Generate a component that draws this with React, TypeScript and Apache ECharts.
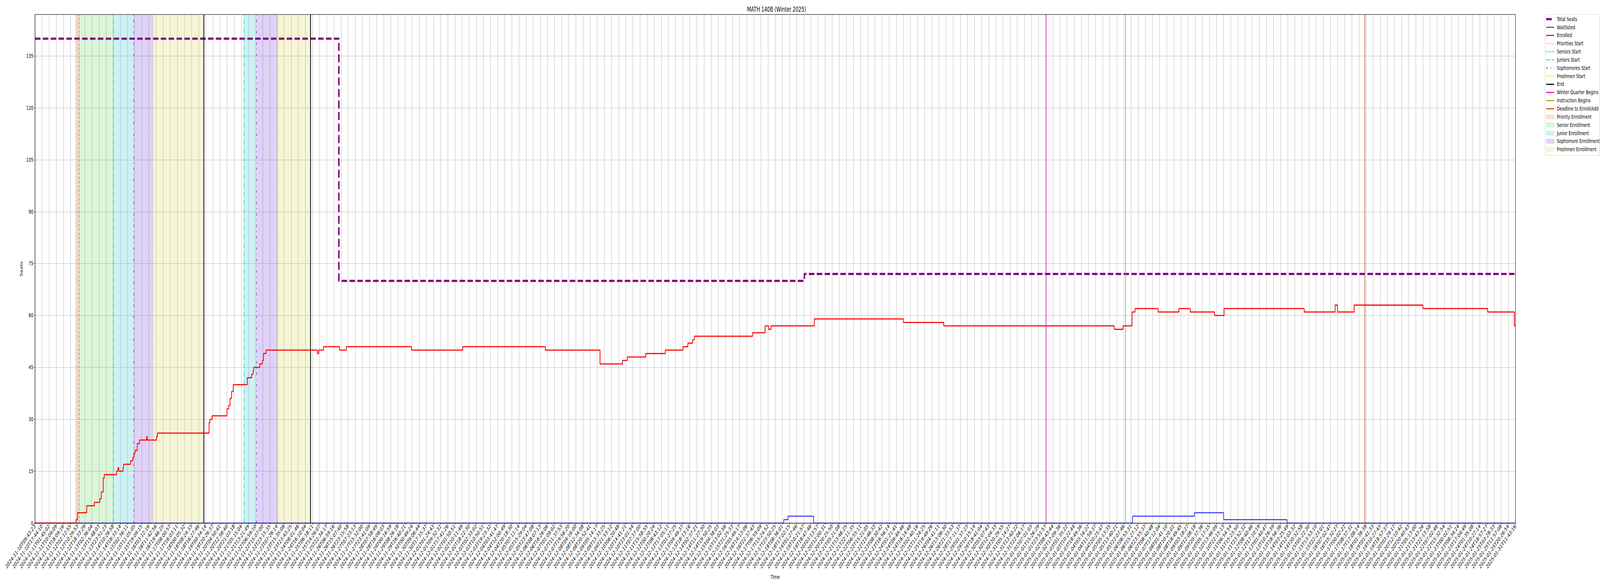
import { useEffect, useRef, useState } from 'react'
import * as echarts from 'echarts'

// tick labels, one per tick position 0..208 on the x axis
const timeLabels = [
  '2024-11-10T09:43:23', '2024-11-10T17:44:10', '2024-11-11T01:45:02', '2024-11-11T10:09:09', '2024-11-11T18:09:16',
  '2024-11-12T02:12:55', '2024-11-12T10:29:53', '2024-11-12T18:33:29', '2024-11-13T02:36:04', '2024-11-13T15:48:03',
  '2024-11-13T23:51:23', '2024-11-14T10:28:58', '2024-11-14T18:33:14', '2024-11-15T02:36:11', '2024-11-15T11:05:05',
  '2024-11-15T19:09:15', '2024-11-16T03:12:16', '2024-11-16T11:42:56', '2024-11-16T19:46:25', '2024-11-17T08:00:57',
  '2024-11-17T16:03:11', '2024-11-18T00:05:32', '2024-11-18T08:24:33', '2024-11-18T16:27:46', '2024-11-19T00:34:14',
  '2024-11-19T20:26:37', '2024-11-20T04:50:41', '2024-11-20T12:56:40', '2024-11-20T21:03:18', '2024-11-21T05:15:04',
  '2024-11-21T13:21:49', '2024-11-22T06:59:10', '2024-11-22T15:07:00', '2024-11-22T23:15:35', '2024-11-23T07:26:14',
  '2024-11-23T15:35:08', '2024-11-23T23:43:25', '2024-11-24T08:01:46', '2024-11-24T16:10:04', '2024-11-25T06:18:11',
  '2024-11-25T14:26:07', '2024-11-25T22:34:17', '2024-11-26T06:59:16', '2024-11-26T15:07:40', '2024-11-26T23:15:58',
  '2024-11-27T07:23:13', '2024-11-27T15:32:00', '2024-11-27T23:41:09', '2024-11-28T07:58:49', '2024-11-28T16:08:03',
  '2024-11-29T00:16:59', '2024-11-29T08:26:18', '2024-11-29T16:40:21', '2024-11-30T00:49:24', '2024-11-30T09:06:44',
  '2024-11-30T17:15:37', '2024-12-01T01:24:43', '2024-12-01T09:32:32', '2024-12-01T17:41:26', '2024-12-02T01:50:51',
  '2024-12-02T10:11:49', '2024-12-02T18:22:30', '2024-12-03T02:33:02', '2024-12-03T10:50:51', '2024-12-03T19:23:32',
  '2024-12-04T03:41:47', '2024-12-04T12:00:49', '2024-12-04T20:18:30', '2024-12-05T07:11:14', '2024-12-05T15:29:04',
  '2024-12-05T23:47:08', '2024-12-06T08:07:13', '2024-12-06T16:26:06', '2024-12-07T01:09:02', '2024-12-07T11:37:53',
  '2024-12-07T19:56:20', '2024-12-08T04:16:00', '2024-12-08T12:34:08', '2024-12-08T20:52:41', '2024-12-09T05:14:17',
  '2024-12-09T13:33:25', '2024-12-09T21:53:12', '2024-12-10T06:20:48', '2024-12-10T14:41:21', '2024-12-10T23:01:54',
  '2024-12-11T07:37:00', '2024-12-11T15:58:55', '2024-12-12T00:20:24', '2024-12-12T08:43:12', '2024-12-12T17:05:11',
  '2024-12-13T01:27:25', '2024-12-13T09:49:37', '2024-12-13T18:13:16', '2024-12-14T02:37:21', '2024-12-14T11:27:30',
  '2024-12-14T19:50:25', '2024-12-15T04:38:03', '2024-12-15T13:02:56', '2024-12-15T21:25:33', '2024-12-16T05:49:17',
  '2024-12-16T14:13:06', '2024-12-16T22:37:43', '2024-12-17T06:59:09', '2024-12-17T15:24:52', '2024-12-17T23:50:25',
  '2024-12-18T08:36:01', '2024-12-18T17:02:15', '2024-12-19T01:27:46', '2024-12-19T10:21:57', '2024-12-19T18:47:46',
  '2024-12-20T03:13:57', '2024-12-20T12:00:31', '2024-12-20T20:25:50', '2024-12-21T05:21:08', '2024-12-21T13:46:25',
  '2024-12-21T22:11:35', '2024-12-22T06:55:11', '2024-12-22T15:21:05', '2024-12-22T23:46:33', '2024-12-23T08:30:42',
  '2024-12-23T16:56:14', '2024-12-24T01:21:41', '2024-12-24T09:49:46', '2024-12-24T18:14:48', '2024-12-25T02:40:16',
  '2024-12-25T11:24:25', '2024-12-25T19:49:26', '2024-12-26T04:41:11', '2024-12-26T13:06:30', '2024-12-26T21:33:53',
  '2024-12-28T17:11:37', '2024-12-29T01:37:23', '2024-12-29T10:15:14', '2024-12-29T18:41:04', '2024-12-30T03:07:43',
  '2024-12-30T12:04:33', '2024-12-30T20:29:55', '2024-12-31T05:14:27', '2024-12-31T13:40:22', '2024-12-31T22:06:17',
  '2025-01-01T07:01:03', '2025-01-01T15:26:29', '2025-01-01T23:51:57', '2025-01-02T08:43:44', '2025-01-02T17:09:36',
  '2025-01-03T01:35:22', '2025-01-03T10:22:44', '2025-01-03T18:49:36', '2025-01-04T03:16:22', '2025-01-04T11:59:37',
  '2025-01-04T20:25:47', '2025-01-05T05:13:35', '2025-01-05T13:40:21', '2025-01-05T22:07:46', '2025-01-06T06:53:31',
  '2025-01-06T15:27:12', '2025-01-06T23:55:37', '2025-01-07T08:40:48', '2025-01-07T17:12:04', '2025-01-08T01:41:10',
  '2025-01-08T10:20:01', '2025-01-08T18:49:45', '2025-01-09T03:18:27', '2025-01-09T12:08:18', '2025-01-09T20:37:36',
  '2025-01-10T05:17:15', '2025-01-10T13:46:09', '2025-01-10T22:15:13', '2025-01-11T06:54:54', '2025-01-11T15:23:50',
  '2025-01-11T23:52:32', '2025-01-12T08:40:46', '2025-01-12T17:10:19', '2025-01-13T01:40:47', '2025-01-13T10:26:39',
  '2025-01-13T18:56:36', '2025-01-14T03:25:49', '2025-01-14T12:03:32', '2025-01-14T20:32:58', '2025-01-15T05:22:30',
  '2025-01-15T13:53:10', '2025-01-15T22:23:01', '2025-01-16T07:02:47', '2025-01-16T15:32:27', '2025-01-17T00:02:22',
  '2025-01-17T08:37:31', '2025-01-17T17:08:14', '2025-01-18T01:38:38', '2025-01-19T01:41:33', '2025-01-19T10:27:43',
  '2025-01-19T18:57:37', '2025-01-20T03:29:17', '2025-01-20T12:10:42', '2025-01-20T20:40:43', '2025-01-21T05:13:00',
  '2025-01-21T13:43:26', '2025-01-21T22:13:58', '2025-01-22T07:02:46', '2025-01-22T15:32:54', '2025-01-23T00:02:51',
  '2025-01-23T08:34:24', '2025-01-23T17:04:49', '2025-01-24T01:35:08', '2025-01-24T10:27:14', '2025-01-24T18:57:27',
  '2025-01-25T03:28:33', '2025-01-25T11:57:08', '2025-01-25T20:26:54', '2025-01-31T11:43:16',
]

// step series: position (in tick units) where a value starts, and the value
const seatsAt = [0, 42.7, 108.1, 208]
const seatsValues = [140, 70, 72, 72]

const waitlistAt = [0, 105.2, 105.8, 109.4, 154.2, 162.9, 167.0, 175.9, 208]
const waitlistValues = [0, 1, 2, 0, 2, 3, 1, 0, 0]

const enrolledAt = [
  0, 5.77, 5.98, 7.28, 8.35, 9.1, 9.32, 9.59, 9.74, 11.47,
  11.65, 11.78, 12.38, 12.44, 13.44, 13.75, 13.9, 14.05, 14.38, 14.69,
  15.69, 15.78, 17.09, 17.21, 24.46, 24.58, 24.89, 26.98, 27.22, 27.41,
  27.62, 27.86, 29.83, 30.44, 30.65, 30.74, 31.59, 31.96, 32.11, 32.47,
  39.68, 39.87, 40.55, 42.79, 43.76, 52.9, 60.1, 71.7, 79.39, 82.56,
  83.22, 85.81, 88.56, 91.06, 91.73, 92.4, 92.65, 100.82, 102.58, 103.08,
  103.41, 109.5, 122.01, 127.68, 151.63, 152.88, 154.13, 154.55, 157.8, 160.72,
  162.31, 165.72, 167.06, 178.32, 182.66, 182.99, 185.33, 194.99, 204.1, 207.85,
  208,
]
const enrolledValues = [
  0, 1, 3, 5, 6, 7, 9, 13, 14, 15,
  16, 15, 16, 17, 18, 19, 20, 21, 23, 24,
  25, 24, 25, 26, 29, 30, 31, 33, 34, 36,
  38, 40, 42, 43, 44, 45, 46, 47, 49, 50,
  49, 50, 51, 50, 51, 50, 51, 50, 46, 47,
  48, 49, 50, 51, 52, 53, 54, 55, 57, 56,
  57, 59, 58, 57, 56, 57, 61, 62, 61, 62,
  61, 60, 62, 61, 63, 61, 63, 62, 61, 57,
  57,
]

// enrollment pass boundaries and calendar events (tick units)
const prioritiesStart = [5.73]
const seniorsStart = [6.21]
const juniorsStart = [11.0, 29.37]
const sophomoresStart = [13.86, 31.12]
const freshmenStart = [16.6, 34.12]
const passEnd = [23.71, 38.71]
const winterQuarterBegins = [142.04]
const instructionBegins = [153.22]
const deadlineToAdd = [186.83]

const X_MAX = 208
const Y_MAX = 147

// the chart is laid out at 6000x1500 and scaled to whatever the window really is
const W = 6000
const H = 1500
const GRID = { left: 131, top: 37, right: 5683, bottom: 1339 }
const FONT = 'DejaVu Sans'

const C = {
  priorities: '#f26a30',
  seniors: '#32cd32',
  juniors: '#00ced1',
  sophomores: '#7028e0',
  freshmen: '#dcdc28',
  end: '#000000',
  winter: '#e0119d',
  instruction: '#8db312',
  deadline: '#d2411e',
  priorityFill: 'rgba(240,130,95,0.27)',
  seniorFill: 'rgba(60,200,40,0.19)',
  juniorFill: 'rgba(40,190,200,0.23)',
  sophomoreFill: 'rgba(120,60,220,0.23)',
  freshmenFill: 'rgba(200,200,20,0.17)',
}

const DOTTED = [2.1, 3.4]
const DASHED = [7.7, 3.3]
const DASHDOT = [13.3, 3.3, 2.1, 3.3]
const LOOSE_DASHDOT = [6.25, 10.4, 2.1, 10.4]
const DENSE_DASHDOT = [6.25, 2.1, 2.1, 2.1]

function toPoints(xs: number[], ys: number[]) {
  return xs.map((x, i) => [x, ys[i]])
}

function vLines(xs: number[], color: string, width: number, dash: number[] | 'solid') {
  return xs.map((x) => ({
    xAxis: x,
    lineStyle: { color, width, type: dash, opacity: 1 },
  }))
}

function spans(starts: number[], ends: number[], color: string) {
  return starts.map((s, i) => [
    { xAxis: s, itemStyle: { color } },
    { xAxis: ends[i] },
  ])
}

const legendItems: Array<{ name: string; kind: 'line' | 'patch'; color: string; width?: number; dash?: number[]; len?: number }> = [
  { name: 'Total Seats', kind: 'line', color: '#800080', width: 5.6, len: 21 },
  { name: 'Waitlisted', kind: 'line', color: '#0000ff', width: 2 },
  { name: 'Enrolled', kind: 'line', color: '#ff0000', width: 2.8 },
  { name: 'Priorities Start', kind: 'line', color: C.priorities, width: 2, dash: DOTTED },
  { name: 'Seniors Start', kind: 'line', color: C.seniors, width: 2, dash: DASHED },
  { name: 'Juniors Start', kind: 'line', color: C.juniors, width: 2, dash: DASHDOT },
  { name: 'Sophomores Start', kind: 'line', color: C.sophomores, width: 2, dash: LOOSE_DASHDOT },
  { name: 'Freshmen Start', kind: 'line', color: C.freshmen, width: 2, dash: DENSE_DASHDOT },
  { name: 'End', kind: 'line', color: C.end, width: 2.8 },
  { name: 'Winter Quarter Begins', kind: 'line', color: C.winter, width: 2.8 },
  { name: 'Instruction Begins', kind: 'line', color: C.instruction, width: 2.8 },
  { name: 'Deadline to Enroll/Add', kind: 'line', color: C.deadline, width: 2.8 },
  { name: 'Priority Enrollment', kind: 'patch', color: C.priorityFill },
  { name: 'Senior Enrollment', kind: 'patch', color: C.seniorFill },
  { name: 'Junior Enrollment', kind: 'patch', color: C.juniorFill },
  { name: 'Sophomore Enrollment', kind: 'patch', color: C.sophomoreFill },
  { name: 'Freshmen Enrollment', kind: 'patch', color: C.freshmenFill },
]

function buildLegend() {
  const x0 = 5794
  const y0 = 37
  const rowY = (i: number) => 49 + i * 20.85
  const els: any[] = [
    {
      type: 'rect',
      shape: { x: x0, y: y0, width: 204, height: 361, r: 4 },
      style: { fill: 'rgba(255,255,255,0.8)', stroke: '#cccccc', lineWidth: 1 },
      z: 100,
    },
  ]
  legendItems.forEach((it, i) => {
    const y = rowY(i)
    if (it.kind === 'line') {
      els.push({
        type: 'line',
        shape: { x1: 5798, y1: y, x2: 5798 + (it.len ?? 30), y2: y },
        style: { stroke: it.color, lineWidth: it.width, lineDash: it.dash ?? null },
        z: 101,
      })
    } else {
      els.push({
        type: 'rect',
        shape: { x: 5799, y: y - 5.5, width: 29, height: 11 },
        style: { fill: it.color, stroke: it.color, lineWidth: 1 },
        z: 101,
      })
    }
    els.push({
      type: 'text',
      x: 5838,
      y,
      style: { text: it.name, fill: '#000', fontSize: 14, fontFamily: FONT, verticalAlign: 'middle' },
      z: 101,
    })
  })
  return els
}

export default function App() {
  const chartRef = useRef<HTMLDivElement>(null)
  const [fit, setFit] = useState({ sx: 1, sy: 1 })

  useEffect(() => {
    const vw = document.documentElement.clientWidth || window.innerWidth
    const vh = window.innerHeight
    setFit({ sx: Math.min(1, vw / W), sy: Math.min(1, vh / H) })
  }, [])

  useEffect(() => {
    if (!chartRef.current) return
    const chart = echarts.init(chartRef.current, null, { renderer: 'svg', width: W, height: H })

    const option = {
      animation: false,
      backgroundColor: '#ffffff',
      textStyle: { fontFamily: FONT, color: '#000' },
      title: {
        text: 'MATH 140B (Winter 2025)',
        left: (GRID.left + GRID.right) / 2,
        textAlign: 'center',
        top: 10,
        textStyle: { fontSize: 17, fontWeight: 'normal', color: '#000', fontFamily: FONT },
      },
      grid: {
        left: GRID.left,
        top: GRID.top,
        width: GRID.right - GRID.left,
        height: GRID.bottom - GRID.top,
        containLabel: false,
      },
      xAxis: {
        type: 'value',
        min: 0,
        max: X_MAX,
        interval: 1,
        name: 'Time',
        nameLocation: 'middle',
        nameGap: 131,
        nameTextStyle: { fontSize: 14, color: '#000', fontFamily: FONT },
        axisLine: { lineStyle: { color: '#000', width: 1.2 } },
        axisTick: { show: true, length: 5, lineStyle: { color: '#000', width: 1 } },
        axisLabel: {
          rotate: 45,
          margin: 6,
          fontSize: 14,
          color: '#000',
          fontFamily: FONT,
          formatter: (v: number) => timeLabels[Math.round(v)] ?? '',
        },
        splitLine: { show: true, lineStyle: { color: '#b0b0b0', width: 1 } },
      },
      yAxis: {
        type: 'value',
        min: 0,
        max: Y_MAX,
        interval: 15,
        name: 'Seats',
        nameLocation: 'middle',
        nameGap: 44,
        nameTextStyle: { fontSize: 14, color: '#000', fontFamily: FONT },
        axisLine: { show: true, lineStyle: { color: '#000', width: 1.2 } },
        axisTick: { show: true, length: 5, lineStyle: { color: '#000', width: 1 } },
        axisLabel: { fontSize: 14, color: '#000', fontFamily: FONT, margin: 6, showMaxLabel: false },
        splitLine: { show: true, lineStyle: { color: '#b0b0b0', width: 1 } },
      },
      series: [
        {
          name: 'Enrollment windows',
          type: 'line',
          data: [],
          silent: true,
          z: 1,
          markArea: {
            silent: true,
            data: [
              ...spans(prioritiesStart, seniorsStart, C.priorityFill),
              ...spans(seniorsStart, [juniorsStart[0]], C.seniorFill),
              ...spans(juniorsStart, sophomoresStart, C.juniorFill),
              ...spans(sophomoresStart, freshmenStart, C.sophomoreFill),
              ...spans(freshmenStart, passEnd, C.freshmenFill),
            ],
          },
        },
        {
          name: 'Events',
          type: 'line',
          data: [],
          silent: true,
          z: 2,
          markLine: {
            silent: true,
            symbol: ['none', 'none'],
            label: { show: false },
            data: [
              ...vLines(prioritiesStart, C.priorities, 2, DOTTED),
              ...vLines(seniorsStart, C.seniors, 2, DASHED),
              ...vLines(juniorsStart, C.juniors, 2, DASHDOT),
              ...vLines(sophomoresStart, C.sophomores, 2, LOOSE_DASHDOT),
              ...vLines(freshmenStart, C.freshmen, 2, DENSE_DASHDOT),
              ...vLines(passEnd, C.end, 2.8, 'solid'),
              ...vLines(winterQuarterBegins, C.winter, 2, 'solid'),
              ...vLines(instructionBegins, C.instruction, 2, 'solid'),
              ...vLines(deadlineToAdd, C.deadline, 2, 'solid'),
            ],
          },
        },
        {
          name: 'Total Seats',
          type: 'line',
          step: 'end',
          showSymbol: false,
          symbol: 'none',
          z: 3,
          data: toPoints(seatsAt, seatsValues),
          lineStyle: { color: '#800080', width: 5.6, type: [20.6, 8.9] },
        },
        {
          name: 'Waitlisted',
          type: 'line',
          step: 'end',
          showSymbol: false,
          symbol: 'none',
          z: 4,
          data: toPoints(waitlistAt, waitlistValues),
          lineStyle: { color: '#0000ff', width: 2 },
        },
        {
          name: 'Enrolled',
          type: 'line',
          step: 'end',
          showSymbol: false,
          symbol: 'none',
          z: 5,
          data: toPoints(enrolledAt, enrolledValues),
          lineStyle: { color: '#ff0000', width: 2.8 },
        },
      ],
      graphic: [
        {
          type: 'rect',
          shape: { x: GRID.left, y: GRID.top, width: GRID.right - GRID.left, height: GRID.bottom - GRID.top },
          style: { fill: 'none', stroke: '#000', lineWidth: 1.2 },
          silent: true,
          z: 50,
        },
        ...buildLegend(),
      ],
    }

    chart.setOption(option as any)

    return () => {
      chart.dispose()
    }
  }, [])

  return (
    <div style={{ position: 'fixed', left: 0, top: 0, width: '100vw', height: '100vh', overflow: 'hidden', background: '#fff' }}>
      <div
        ref={chartRef}
        style={{
          position: 'absolute',
          left: 0,
          top: 0,
          width: `${W}px`,
          height: `${H}px`,
          transformOrigin: '0 0',
          transform: `scale(${fit.sx}, ${fit.sy})`,
        }}
      />
    </div>
  )
}
